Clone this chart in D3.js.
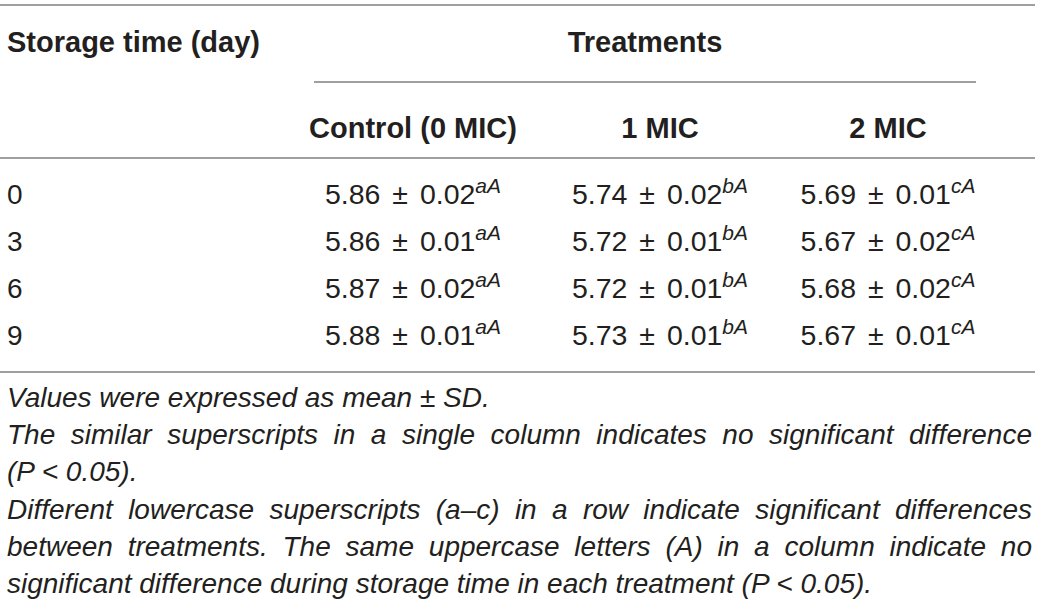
<!DOCTYPE html>
<html lang="en">
	<head>
		<meta charset="utf-8">
		<title>pH during storage</title>
		<script type="text/javascript" src="https://cdnjs.cloudflare.com/ajax/libs/d3/7.8.5/d3.min.js"></script>
		<style type="text/css">
			body { margin: 0; background: #fff; }
			text { font-family: "Liberation Sans", Arial, Helvetica, sans-serif; fill: #231f20; }
		</style>
	</head>
	<body>
		<script type="text/javascript">

			//Width and height
			var w = 1040;
			var h = 607;

			//Table data
			var days = ["0", "3", "6", "9"];
			var treatments = ["Control (0 MIC)", "1 MIC", "2 MIC"];

			var controlMean = [5.86, 5.86, 5.87, 5.88];
			var controlSD   = [0.02, 0.01, 0.02, 0.01];
			var controlSup  = ["aA", "aA", "aA", "aA"];

			var mic1Mean = [5.74, 5.72, 5.72, 5.73];
			var mic1SD   = [0.02, 0.01, 0.01, 0.01];
			var mic1Sup  = ["bA", "bA", "bA", "bA"];

			var mic2Mean = [5.69, 5.67, 5.68, 5.67];
			var mic2SD   = [0.01, 0.02, 0.02, 0.01];
			var mic2Sup  = ["cA", "cA", "cA", "cA"];

			var notes = [
				["Values were expressed as mean \u00b1 SD.", false],
				["The similar superscripts in a single column indicates no significant difference", true],
				["(P < 0.05).", false],
				["Different lowercase superscripts (a\u2013c) in a row indicate significant differences", true],
				["between treatments. The same uppercase letters (A) in a column indicate no", true],
				["significant difference during storage time in each treatment (P < 0.05).", false]
			];

			var fs = 28;
			var left = 7, right = 1032;

			//Scales
			var xScale = d3.scaleOrdinal()
							.domain(treatments)
							.range([413, 660, 888]);

			var yScale = d3.scalePoint()
							.domain(days)
							.range([204, 345]);

			var noteY = d3.scaleLinear()
							.domain([0, notes.length - 1])
							.range([407, 593]);

			var svg = d3.select("body")
						.append("svg")
						.attr("width", w)
						.attr("height", h);

			//Rules
			var rules = [
				[0, 1035, 5],
				[314, 976, 82],
				[0, 1035, 158],
				[0, 1035, 372]
			];
			svg.selectAll("line")
			   .data(rules)
			   .enter()
			   .append("line")
			   .attr("x1", function(d) { return d[0]; })
			   .attr("x2", function(d) { return d[1]; })
			   .attr("y1", function(d) { return d[2]; })
			   .attr("y2", function(d) { return d[2]; })
			   .attr("stroke", "#7f7f7f")
			   .attr("stroke-width", 1.5);

			//Header
			svg.append("text")
			   .attr("x", left)
			   .attr("y", 52)
			   .attr("font-size", 29)
			   .attr("font-weight", "bold")
			   .text("Storage time (day)");

			svg.append("text")
			   .attr("x", 645)
			   .attr("y", 52)
			   .attr("text-anchor", "middle")
			   .attr("font-size", 29)
			   .attr("font-weight", "bold")
			   .text("Treatments");

			svg.selectAll("text.colhead")
			   .data(treatments)
			   .enter()
			   .append("text")
			   .attr("class", "colhead")
			   .attr("x", function(d) { return xScale(d); })
			   .attr("y", 138)
			   .attr("text-anchor", "middle")
			   .attr("font-size", 29)
			   .attr("font-weight", "bold")
			   .text(function(d) { return d; });

			//Row labels
			svg.selectAll("text.day")
			   .data(days)
			   .enter()
			   .append("text")
			   .attr("class", "day")
			   .attr("x", left)
			   .attr("y", function(d) { return yScale(d); })
			   .attr("font-size", fs)
			   .text(function(d) { return d; });

			//Cells
			var columns = [
				[controlMean, controlSD, controlSup],
				[mic1Mean, mic1SD, mic1Sup],
				[mic2Mean, mic2SD, mic2Sup]
			];
			var cells = [];
			columns.forEach(function(col, j) {
				days.forEach(function(day, i) {
					cells.push({ col: treatments[j], day: day, mean: col[0][i], sd: col[1][i], sup: col[2][i] });
				});
			});

			var cell = svg.selectAll("text.cell")
			   .data(cells)
			   .enter()
			   .append("text")
			   .attr("class", "cell")
			   .attr("x", function(d) { return xScale(d.col); })
			   .attr("y", function(d) { return yScale(d.day); })
			   .attr("text-anchor", "middle")
			   .attr("font-size", 28.5)
			   .attr("word-spacing", 4);
			cell.append("tspan")
			    .text(function(d) { return d.mean.toFixed(2) + " \u00b1 " + d.sd.toFixed(2); });
			cell.append("tspan")
			    .attr("dy", -11)
			    .attr("font-size", 21)
			    .attr("font-style", "italic")
			    .text(function(d) { return d.sup; });

			//Footnotes, some lines justified
			notes.forEach(function(n, i) {
				var y = noteY(i);
				if (!n[1]) {
					svg.append("text")
					   .attr("x", left)
					   .attr("y", y)
					   .attr("font-size", fs)
					   .attr("font-style", "italic")
					   .text(n[0]);
					return;
				}
				var words = n[0].split(" ");
				var ws = words.map(function(word) {
					return svg.append("text")
					   .attr("y", y)
					   .attr("font-size", fs)
					   .attr("font-style", "italic")
					   .text(word);
				});
				var widths = ws.map(function(t) { return t.node().getComputedTextLength(); });
				var gap = (right - left - d3.sum(widths)) / (words.length - 1);
				var x = left;
				ws.forEach(function(t, k) {
					t.attr("x", x);
					x += widths[k] + gap;
				});
			});

		</script>
	</body>
</html>
